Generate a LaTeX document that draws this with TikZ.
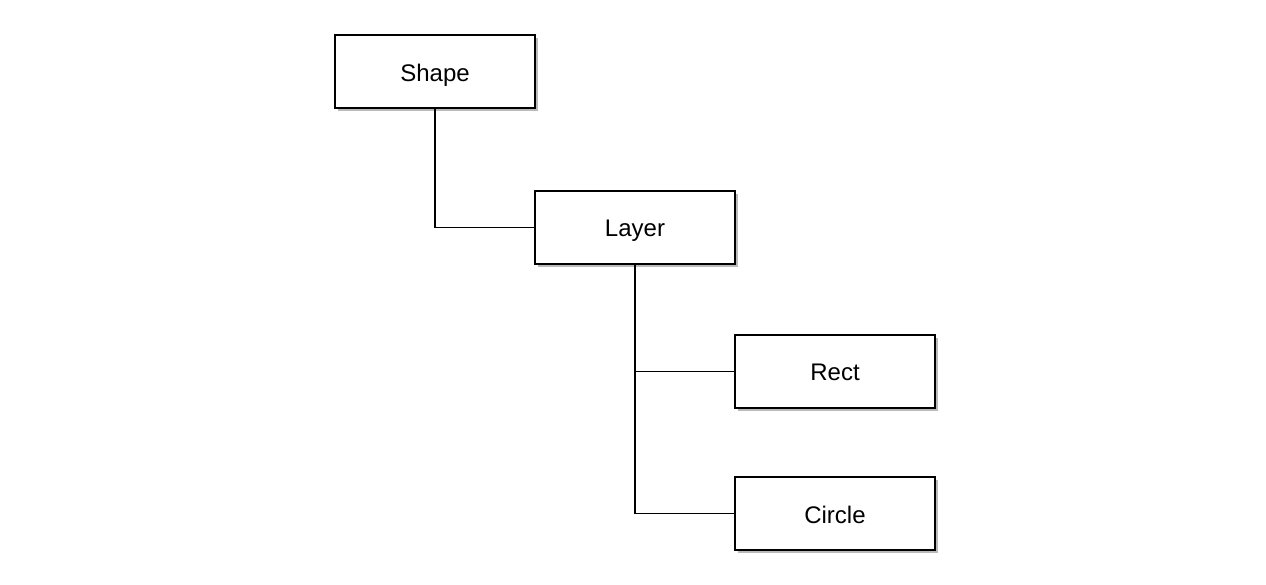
\documentclass[tikz,border=0pt]{standalone}
\usepackage{fontspec}
\setmainfont{Liberation Sans}
\usetikzlibrary{shadows}
\begin{document}
\begin{tikzpicture}[x=1pt,y=-1pt,
  box/.style={draw=black,line width=1.6pt,fill=white,minimum width=200pt,minimum height=73pt,inner sep=0pt,
    font=\fontsize{24}{28}\selectfont,text depth=0pt,
    drop shadow={shadow xshift=2.5pt,shadow yshift=-2.5pt,fill=black!60,opacity=0.45}},
  link/.style={line width=1.7pt,draw=black}]
\useasboundingbox (0,0) rectangle (1266,584);
\node[box] (shape) at (435,71.5) {\raisebox{-2pt}{Shape}};
\node[box] (layer) at (635,227.5) {\raisebox{-2pt}{Layer}};
\node[box] (rect) at (835,371.5) {\raisebox{-2pt}{Rect}};
\node[box] (circle) at (835,513.5) {\raisebox{-2pt}{Circle}};
\draw[link] (shape.south) |- (layer.west);
\draw[link] (layer.south) |- (rect.west);
\draw[link] (layer.south) |- (circle.west);
\end{tikzpicture}
\end{document}
